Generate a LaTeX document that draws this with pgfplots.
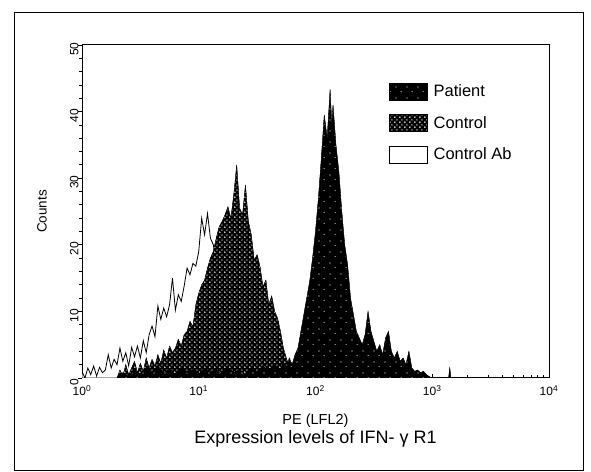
\documentclass[border=0pt]{standalone}
\usepackage{pgfplots}
\pgfplotsset{compat=1.18}
\usepackage{fontspec}
\setmainfont{Liberation Sans}
\usetikzlibrary{patterns}
\pgfdeclarepatternformonly{ctrldots}{\pgfqpoint{-1bp}{-1bp}}{\pgfqpoint{4bp}{4bp}}{\pgfqpoint{5bp}{5bp}}{%
  \pgfpathcircle{\pgfqpoint{0bp}{0bp}}{0.95bp}\pgfusepath{fill}%
  \pgfpathcircle{\pgfqpoint{2.5bp}{2.5bp}}{0.8bp}\pgfusepath{fill}}
\pgfdeclarepatternformonly{patdots}{\pgfqpoint{-1bp}{-1bp}}{\pgfqpoint{10bp}{10bp}}{\pgfqpoint{11bp}{11bp}}{%
  \pgfpathcircle{\pgfqpoint{0bp}{0bp}}{0.55bp}\pgfusepath{fill}%
  \pgfpathcircle{\pgfqpoint{5bp}{6.5bp}}{0.5bp}\pgfusepath{fill}}
\begin{document}
\begin{tikzpicture}
\path[use as bounding box] (0,0) rectangle (591bp,472bp);
\begin{axis}[
  at={(82bp,94bp)}, anchor=south west,
  scale only axis, width=467bp, height=333bp,
  xmin=0, xmax=4, ymin=0, ymax=50,
  axis line style={line width=1bp},
  xtick={0,1,2,3,4},
  xticklabels={10\textsuperscript{0},10\textsuperscript{1},10\textsuperscript{2},10\textsuperscript{3},10\textsuperscript{4}},
  minor xtick={0.30103,0.47712,0.60206,0.69897,0.77815,0.84510,0.90309,0.95424,
               1.30103,1.47712,1.60206,1.69897,1.77815,1.84510,1.90309,1.95424,
               2.30103,2.47712,2.60206,2.69897,2.77815,2.84510,2.90309,2.95424,
               3.30103,3.47712,3.60206,3.69897,3.77815,3.84510,3.90309,3.95424},
  ytick={0,10,20,30,40,50},
  minor y tick num=4,
  xtick pos=bottom, ytick pos=left,
  tick align=inside,
  major tick length=4bp, minor tick length=2.5bp,
  major y tick style={xshift=-4bp},
  minor y tick style={xshift=-2.5bp},
  tick style={black, line width=0.8bp},
  /pgf/number format/assume math mode=true,
  x tick label style={font=\fontsize{12bp}{14bp}\selectfont, yshift=-4bp},
  y tick label style={font=\fontsize{12bp}{14bp}\selectfont, rotate=90, anchor=south, xshift=-4bp},
  xlabel={PE (LFL2)},
  xlabel style={at={(axis description cs:0.5,-0.128)}, anchor=center, font=\fontsize{14.5bp}{16bp}\selectfont},
  ylabel={Counts},
  ylabel style={at={(axis description cs:-0.0857,0.5)}, anchor=center, rotate=0, font=\fontsize{13.5bp}{15bp}\selectfont},
  title={Expression levels of IFN- γ R1},
  title style={at={(axis description cs:0.5,-0.202)}, anchor=center, font=\fontsize{18bp}{20bp}\selectfont},
  reverse legend,
  legend cell align=left,
  legend image code/.code={\draw[#1] (0bp,-8.5bp) rectangle (38bp,8.5bp);},
  legend style={at={(rel axis cs:0.657,0.886)}, anchor=north west, draw=none, fill=none,
    inner sep=0pt, outer sep=0pt, row sep=14bp, column sep=6bp,
    nodes={inner sep=0pt, font=\fontsize{16.5bp}{18bp}\selectfont}},
]
% Control Ab (outline)
\addplot[draw=black, fill=white, line width=0.8bp] table {
x y
0.000 1.0
0.025 0.0
0.050 1.5
0.075 0.5
0.100 1.8
0.125 0.3
0.150 1.6
0.175 0.8
0.200 1.2
0.225 3.5
0.250 1.5
0.275 2.8
0.300 2.0
0.325 4.5
0.350 2.5
0.375 3.8
0.400 1.8
0.425 4.6
0.450 3.2
0.475 4.8
0.500 3.0
0.525 5.6
0.550 3.8
0.575 6.5
0.600 7.8
0.625 6.2
0.650 10.8
0.675 8.8
0.700 10.5
0.725 9.2
0.750 11.0
0.775 15.0
0.800 10.2
0.825 12.5
0.850 11.5
0.875 13.8
0.900 16.5
0.925 15.5
0.950 17.2
0.975 16.8
1.000 19.0
1.025 24.0
1.050 21.5
1.075 24.7
1.100 21.0
1.125 20.0
1.150 17.0
1.175 14.0
1.200 12.0
1.250 9.0
1.300 7.0
1.350 5.0
1.400 3.5
1.450 2.5
1.500 1.5
1.600 0.8
1.700 0.0
} \closedcycle;
\addlegendentry{Control Ab}
% Control (dotted pattern)
\addplot[draw=black, line width=0.3bp, fill=black, postaction={pattern=ctrldots, pattern color=white}] table {
x y
0.300 0.0
0.325 1.2
0.350 0.3
0.375 2.0
0.400 0.5
0.425 1.5
0.450 2.5
0.475 0.8
0.500 2.2
0.525 1.0
0.550 3.0
0.575 1.5
0.600 2.8
0.625 1.8
0.650 3.5
0.675 2.2
0.700 4.2
0.725 3.0
0.750 4.8
0.775 3.8
0.800 4.5
0.825 5.8
0.850 4.8
0.875 6.5
0.900 7.0
0.925 8.5
0.950 7.7
0.975 11.0
1.000 12.7
1.025 14.0
1.050 14.7
1.075 16.5
1.100 18.0
1.125 19.0
1.150 21.0
1.175 22.7
1.200 23.5
1.225 24.5
1.250 25.7
1.275 24.0
1.300 27.5
1.325 32.0
1.350 25.5
1.375 24.5
1.400 29.0
1.425 23.5
1.450 21.5
1.475 17.7
1.500 18.5
1.525 16.7
1.550 13.7
1.575 14.7
1.600 11.0
1.625 12.3
1.650 10.0
1.675 9.0
1.700 7.0
1.725 4.5
1.750 3.0
1.775 1.7
1.800 2.2
1.825 1.0
1.850 1.8
1.875 0.8
1.900 1.2
1.925 0.5
1.950 0.0
} \closedcycle;
\addlegendentry{Control}
% Patient (black)
\addplot[draw=black, line width=0.3bp, fill=black, postaction={pattern=patdots, pattern color=white}] table {
x y
0.300 0.0
0.350 0.8
0.400 0.2
0.450 1.2
0.500 0.4
0.550 1.5
0.600 0.6
0.650 1.8
0.700 0.7
0.750 1.4
0.800 0.5
0.850 1.6
0.900 0.8
0.950 1.2
1.000 0.6
1.050 1.5
1.100 0.8
1.150 1.3
1.200 0.5
1.250 1.6
1.300 0.8
1.350 1.2
1.400 0.6
1.450 1.4
1.500 0.8
1.550 1.8
1.600 1.0
1.650 2.0
1.700 1.2
1.725 2.5
1.750 1.2
1.775 3.0
1.800 2.0
1.825 3.5
1.850 4.5
1.875 7.0
1.900 9.5
1.925 12.0
1.950 14.5
1.975 18.0
2.000 22.0
2.025 27.0
2.050 33.0
2.075 39.5
2.100 36.0
2.125 43.3
2.140 38.0
2.150 41.0
2.175 35.0
2.200 31.0
2.225 25.0
2.250 20.0
2.275 17.0
2.300 12.0
2.325 9.5
2.350 7.0
2.375 6.0
2.400 5.0
2.425 6.5
2.450 10.0
2.475 7.0
2.500 5.5
2.525 4.0
2.550 5.0
2.575 3.5
2.600 6.0
2.625 7.0
2.650 4.0
2.675 3.0
2.700 4.0
2.725 2.5
2.750 3.0
2.775 2.0
2.800 4.0
2.825 1.5
2.850 1.0
2.875 1.2
2.900 0.8
2.925 1.0
2.950 0.5
2.975 0.2
3.000 0.0
3.140 0.0
3.150 1.5
3.160 0.0
} \closedcycle;
\addlegendentry{Patient}
\end{axis}
\draw[line width=0.8bp] (14bp,2bp) rectangle (583bp,460bp);
\end{tikzpicture}
\end{document}
